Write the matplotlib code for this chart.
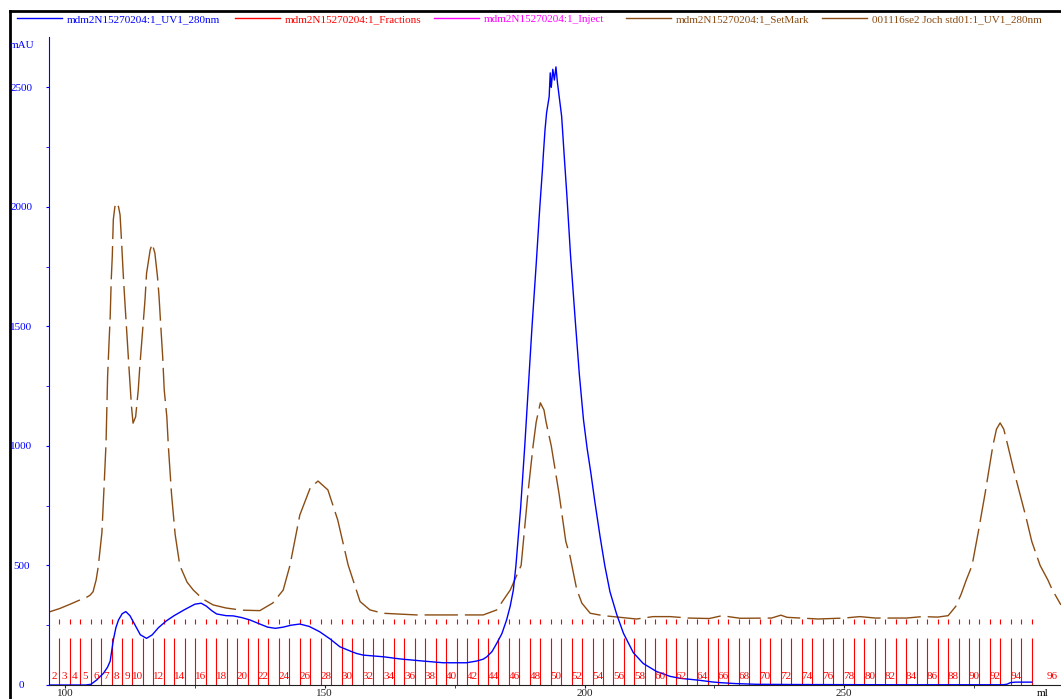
import numpy as np
import matplotlib.pyplot as plt
from matplotlib.lines import Line2D

plt.rcParams['font.family'] = ['Liberation Serif', 'DejaVu Serif']

W, H = 1061, 699

# sample run, UV 280 nm (ml, mAU)
uv_ml = [96.9, 104.0, 105.0, 106.1, 107.4, 108.2, 108.7, 109.3, 109.8, 110.3,
         111.0, 111.7, 112.5, 113.5, 114.5, 115.7, 116.8, 118.0, 119.5, 121.0,
         123.0, 125.0, 126.2, 127.2, 128.3, 129.2, 131.0, 132.4, 134.0, 135.6,
         137.5, 139.0, 140.5, 142.0, 143.5, 145.2, 147.0, 149.0, 151.0, 152.9,
         154.9, 156.1, 157.4, 161.3, 164.5, 169.0, 172.8, 177.3, 179.2, 180.5,
         181.2, 182.2, 183.1, 184.1, 185.0, 185.7, 186.3, 186.8, 187.7, 188.5,
         189.2, 189.9, 190.7, 191.4, 191.9, 192.1, 192.4, 192.7, 193.2, 193.4,
         193.6, 193.7, 193.9, 194.2, 194.5, 194.8, 195.2, 195.6, 196.1, 196.6,
         197.3, 198.2, 199.0, 199.8, 200.5, 201.2, 202.0, 203.0, 203.9, 204.9,
         206.2, 207.5, 209.4, 211.3, 213.9, 216.5, 218.4, 222.0, 224.5, 226.0,
         229.0, 233.0, 240.0, 260.0, 280.5, 281.3, 282.0, 283.0, 286.1]
uv_mau = [0, 0, 3, 21, 49, 75, 100, 188, 240, 272,
          298, 307, 290, 250, 210, 195, 210, 240, 268, 290,
          315, 338, 342, 330, 310, 297, 290, 289, 282, 272,
          255, 242, 237, 242, 250, 255, 245, 223, 193, 160,
          142, 132, 125, 118, 109, 100, 93, 93, 100, 108,
          118, 140, 174, 215, 272, 330, 397, 500, 740, 1000,
          1250, 1500, 1760, 2000, 2155, 2226, 2322, 2393, 2461, 2560,
          2500, 2524, 2575, 2530, 2585, 2517, 2448, 2378, 2211, 2050,
          1800, 1530, 1300, 1110, 990, 890, 765, 620, 500, 390,
          295, 216, 135, 90, 56, 36, 28, 20, 13, 10,
          6, 3, 2, 1, 1, 3, 10, 12, 12]

# standard run 001116se2 Joch std01, UV 280 nm
std_ml = [96.9, 99.0, 101.0, 102.9, 104.0, 104.8, 105.4, 106.0, 106.4, 107.1,
          107.5, 107.9, 108.2, 108.5, 108.7, 108.9, 109.1, 109.3, 109.6, 109.95,
          110.3, 110.6, 110.9, 111.2, 111.5, 111.9, 112.3, 112.8, 113.1, 113.6,
          114.1, 114.4, 114.9, 115.4, 115.7, 116.4, 116.8, 117.3, 117.8, 118.1,
          118.4, 118.8, 119.1, 119.6, 119.9, 120.5, 121.2, 122.1, 123.5, 124.7,
          126.5, 128.5, 131.0, 134.0, 137.5, 140.0, 142.0, 143.3, 145.2, 147.2,
          148.7, 150.6, 152.5, 154.5, 156.8, 158.7, 161.2, 167.7, 174.1, 180.5,
          183.1, 184.4, 185.7, 187.8, 189.1, 190.1, 190.7, 191.5, 192.2, 192.6,
          193.6, 195.1, 196.4, 197.2, 198.5, 199.5, 201.1, 203.6, 205.5, 210.0,
          213.2, 216.5, 220.0, 224.0, 226.5, 228.0, 230.0, 236.0, 237.8, 239.0,
          245.0, 250.0, 253.0, 256.0, 262.0, 265.0, 268.0, 270.0, 271.5, 272.5,
          273.5, 274.6, 275.8, 277.1, 278.6, 279.3, 280.0, 280.7, 281.5, 282.6,
          283.8, 285.0, 286.1, 287.7, 289.2, 290.0, 291.7]
std_mau = [305, 320, 338, 356, 365, 375, 390, 440, 495, 636,
           820, 1012, 1290, 1444, 1541, 1695, 1792, 1946, 2000, 2017,
           2000, 1966, 1848, 1722, 1611, 1472, 1332, 1164, 1095, 1122,
           1234, 1332, 1471, 1611, 1722, 1820, 1845, 1806, 1708, 1625,
           1514, 1374, 1234, 1122, 997, 800, 630, 500, 430, 397,
           360, 335, 322, 313, 311, 343, 397, 500, 711, 824,
           853, 816, 690, 502, 349, 314, 300, 293, 293, 293,
           314, 356, 397, 500, 800, 1000, 1100, 1180, 1150, 1100,
           1000, 800, 600, 540, 400, 342, 300, 290, 286, 276,
           286, 286, 280, 278, 290, 285, 279, 280, 292, 283,
           276, 280, 286, 280, 280, 286, 284, 290, 330, 380,
           440, 500, 640, 800, 1000, 1070, 1096, 1070, 1000, 900,
           800, 700, 600, 500, 439, 400, 335]

# fraction start volumes (fractions 3..96), fraction 2 starts before the view
frac_no = list(range(3, 97))
frac_ml = [98.90, 100.91, 102.93, 104.94, 106.95, 108.96, 110.98, 112.99, 115.00, 117.01,
           119.03, 121.04, 123.05, 125.07, 127.08, 129.09, 131.10, 133.12, 135.13, 137.14,
           139.15, 141.17, 143.18, 145.19, 147.20, 149.22, 151.23, 153.24, 155.26, 157.27,
           159.28, 161.29, 163.31, 165.32, 167.33, 169.34, 171.36, 173.37, 175.38, 177.39,
           179.41, 181.42, 183.43, 185.45, 187.46, 189.47, 191.48, 193.50, 195.51, 197.52,
           199.54, 201.55, 203.56, 205.57, 207.59, 209.60, 211.61, 213.62, 215.64, 217.65,
           219.66, 221.67, 223.69, 225.70, 227.71, 229.73, 231.74, 233.75, 235.76, 237.78,
           239.79, 241.80, 243.81, 245.83, 247.84, 249.85, 251.87, 253.88, 255.89, 257.90,
           259.92, 261.93, 263.94, 265.95, 267.97, 269.98, 271.99, 274.00, 276.02, 278.03,
           280.04, 282.06, 284.07, 286.08]
frac2_start = 96.9
run_end = 293.9

legend_names = ['mdm2N15270204:1_UV1_280nm', 'mdm2N15270204:1_Fractions',
                'mdm2N15270204:1_Inject', 'mdm2N15270204:1_SetMark',
                '001116se2 Joch std01:1_UV1_280nm']
legend_colors = ['#0000ff', '#ff0000', '#ff00ff', '#8b4c13', '#8b4c13']
legend_x = [17, 235, 434, 626, 822]

brown = '#8b4c13'

fig = plt.figure(figsize=(W / 100, H / 100), dpi=100)
ax = fig.add_axes([49 / W, 14 / H, (W - 49) / W, 648 / H])
ax.set_xlim(96.92, 291.72)
ax.set_ylim(0, 2710)

# fractions
ax.vlines(frac_ml, 0, 197, color='#ff0000', lw=0.8)
ax.vlines(frac_ml, 255, 276, color='#ff0000', lw=0.8)

starts = [frac2_start] + frac_ml
ends = frac_ml + [run_end]
numbers = [2] + frac_no
for n, a, b in zip(numbers, starts, ends):
    if n <= 10 or n % 2 == 0:
        ax.text((a + b) / 2, 35, str(n), color='#ff0000', fontsize=8,
                ha='center', va='center')

std_line, = ax.plot(std_ml, std_mau, color=brown, lw=1.0)
std_line.set_dashes((24, 5))
ax.plot(uv_ml, uv_mau, color='#0000ff', lw=1.0)

for s in ['top', 'right']:
    ax.spines[s].set_visible(False)
ax.spines['left'].set_color('#0000ff')
ax.spines['bottom'].set_color('#202020')

ax.set_yticks([0, 500, 1000, 1500, 2000, 2500])
ax.set_yticks(np.arange(250, 2710, 500), minor=True)
ax.set_xticks([100, 150, 200, 250])
ax.set_xticks([125, 175, 225, 275], minor=True)
ax.tick_params(axis='y', which='both', colors='#0000ff', length=2, pad=18, labelsize=8)
ax.tick_params(axis='x', which='both', colors='#202020', length=2, pad=1, labelsize=8)
plt.setp(ax.get_yticklabels(), ha='center')

fig.text(10 / W, 1 - 46 / H, 'mAU', color='#0000ff', fontsize=8, ha='left', va='center')
fig.text(1043 / W, 1 - 694 / H, 'ml', color='black', fontsize=8, ha='center', va='center')

# legend row
for name, c, x0 in zip(legend_names, legend_colors, legend_x):
    fig.add_artist(Line2D([x0 / W, (x0 + 45) / W], [1 - 17.5 / H] * 2, color=c, lw=1.0,
                          transform=fig.transFigure))
    fig.text((x0 + 50) / W, 1 - 20 / H, name, color=c, fontsize=8, ha='left', va='center')

# window border
fig.add_artist(Line2D([9.5 / W, 9.5 / W], [0, 1 - 11 / H], color='black', lw=2,
                      transform=fig.transFigure))
fig.add_artist(Line2D([9.5 / W, 1], [1 - 11 / H, 1 - 11 / H], color='black', lw=2,
                      transform=fig.transFigure))

fig.savefig('out.png', dpi=100)
